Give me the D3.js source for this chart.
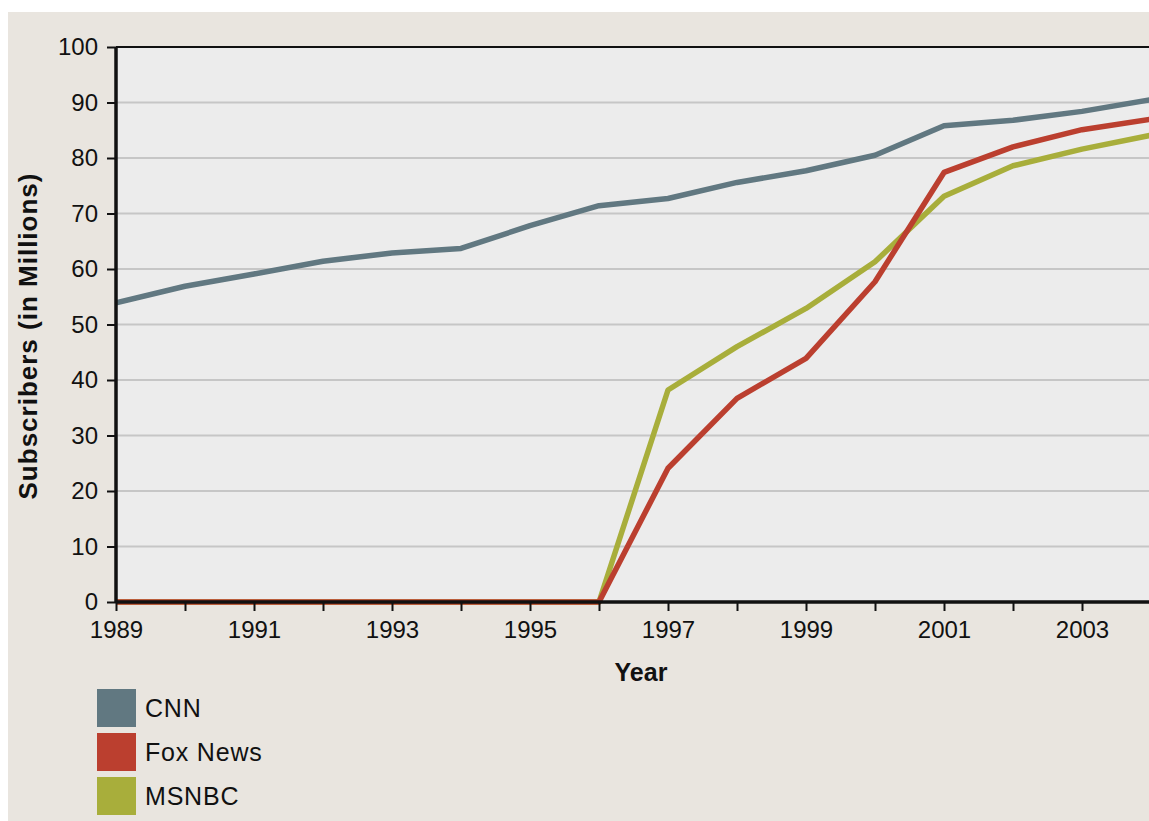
<!DOCTYPE html>
<html>
<head>
<meta charset="utf-8">
<script src="https://cdn.jsdelivr.net/npm/d3@7"></script>
<style>
  html, body { margin: 0; padding: 0; background: #ffffff; }
  svg { display: block; }
  text { font-family: "Liberation Sans", Arial, sans-serif; fill: #111; }
</style>
</head>
<body>
<svg id="chart" width="1149" height="821"></svg>
<script>
const years = [1989,1990,1991,1992,1993,1994,1995,1996,1997,1998,1999,2000,2001,2002,2003,2004];
const cnn     = [53.9,56.9,59.1,61.4,62.9,63.7,67.8,71.4,72.7,75.6,77.7,80.5,85.8,86.8,88.4,90.5];
const foxNews = [0,0,0,0,0,0,0,0,24.1,36.7,43.9,57.7,77.4,82.0,85.1,87.0];
const msnbc   = [0,0,0,0,0,0,0,0,38.2,46.0,52.9,61.3,73.1,78.6,81.6,84.1];
const seriesNames = ["CNN","Fox News","MSNBC"];
const seriesColors = ["#617881","#bb3f2f","#a8ae3b"];
const yTicks = [0,10,20,30,40,50,60,70,80,90,100];
const xLabelYears = [1989,1991,1993,1995,1997,1999,2001,2003];

(function () {
const svg = d3.select("#chart");
const W = 1149, H = 821;

// outer beige panel
svg.append("rect").attr("x", 8).attr("y", 12).attr("width", W - 8).attr("height", H - 12).attr("fill", "#e9e5df");

const pL = 116, pR = 1151, pT = 47, pB = 602;
const x = d3.scaleLinear().domain([1989, 2004]).range([pL, pR]);
const y = d3.scaleLinear().domain([0, 100]).range([pB, pT]);

// plot background
svg.append("rect").attr("x", pL).attr("y", pT).attr("width", W - pL).attr("height", pB - pT).attr("fill", "#ececec");

// gridlines
svg.append("g").selectAll("line").data(yTicks.filter(d => d > 0 && d < 100)).join("line")
  .attr("x1", pL).attr("x2", W)
  .attr("y1", d => y(d)).attr("y2", d => y(d))
  .attr("stroke", "#c6c6c6").attr("stroke-width", 2);

// lines
const data = [cnn, foxNews, msnbc];
const line = d3.line().x((d, i) => x(years[i])).y(d => y(d));
svg.append("defs").append("clipPath").attr("id", "clip")
  .append("rect").attr("x", pL).attr("y", pT - 5).attr("width", W - pL).attr("height", pB - pT + 10);
const lg = svg.append("g").attr("clip-path", "url(#clip)");
[2, 1, 0].forEach(k => {
  lg.append("path").datum(data[k]).attr("d", line)
    .attr("fill", "none").attr("stroke", seriesColors[k])
    .attr("stroke-width", 5.5).attr("stroke-linejoin", "round");
});

// top border
svg.append("line").attr("x1", pL).attr("x2", W).attr("y1", pT).attr("y2", pT)
  .attr("stroke", "#111").attr("stroke-width", 2);

// y axis
const yAxis = d3.axisLeft(y).tickValues(yTicks).tickSize(9).tickPadding(9).tickFormat(d3.format("d"));
const gy = svg.append("g").attr("transform", `translate(${pL},0)`).call(yAxis);
gy.select(".domain").attr("stroke", "#111").attr("stroke-width", 3.5).attr("d", `M0,${pT}V${pB}`);
gy.selectAll(".tick line").attr("stroke", "#111").attr("stroke-width", 2);
gy.selectAll(".tick text").attr("font-size", 24).attr("fill", "#111")
  .attr("font-family", "'Liberation Sans', Arial, sans-serif");

// x axis
const xAxis = d3.axisBottom(x).tickValues(years).tickSize(9).tickPadding(10)
  .tickFormat(d => xLabelYears.includes(d) ? String(d) : "");
const gx = svg.append("g").attr("transform", `translate(0,${pB})`).call(xAxis);
gx.select(".domain").attr("stroke", "#111").attr("stroke-width", 3.5).attr("d", `M${pL},0H${W}`);
gx.selectAll(".tick line").attr("stroke", "#111").attr("stroke-width", 2);
gx.selectAll(".tick text").attr("font-size", 24).attr("fill", "#111")
  .attr("font-family", "'Liberation Sans', Arial, sans-serif");

// axis titles
svg.append("text").attr("x", 641).attr("y", 681).attr("text-anchor", "middle")
  .attr("font-size", 25).attr("font-weight", "bold").text("Year");
svg.append("text").attr("transform", "translate(37,336) rotate(-90)").attr("text-anchor", "middle")
  .attr("font-size", 26).attr("font-weight", "bold").attr("letter-spacing", 1).text("Subscribers (in Millions)");

// legend
const leg = svg.append("g").attr("transform", "translate(97,689)");
seriesNames.forEach((name, i) => {
  const g = leg.append("g").attr("transform", `translate(0,${i * 44})`);
  g.append("rect").attr("width", 39).attr("height", 38).attr("fill", seriesColors[i]);
  g.append("text").attr("x", 48).attr("y", 28).attr("font-size", 25).attr("letter-spacing", 0.8).text(name);
});
})();
</script>
</body>
</html>
